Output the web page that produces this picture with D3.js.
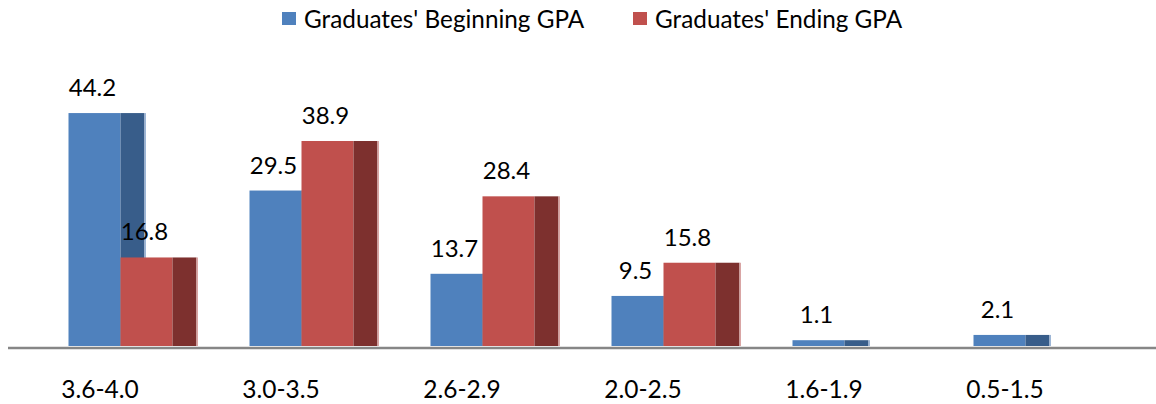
<!DOCTYPE html>
<html>
<head>
<meta charset="utf-8">
<script src="https://cdn.jsdelivr.net/npm/d3@7"></script>
<style>
  html, body { margin: 0; padding: 0; background: #fff; }
  svg { display: block; }
  text { font-family: Lato, "Open Sans", sans-serif; fill: #000; }
</style>
</head>
<body>
<svg id="chart" width="1156" height="404"></svg>
<script>
// GPA ranges, highest first
const categories = ["3.6-4.0", "3.0-3.5", "2.6-2.9", "2.0-2.5", "1.6-1.9", "0.5-1.5"];
// Percent of graduates in each range (null = no bar)
const beginningGPA = [44.2, 29.5, 13.7, 9.5, 1.1, 2.1];
const endingGPA = [16.8, 38.9, 28.4, 15.8, null, null];
const seriesNames = ["Graduates' Beginning GPA", "Graduates' Ending GPA"];

const series = [
  { name: seriesNames[0], values: beginningGPA, front: "#4F81BD", side: "#385D8A", edge: "#9DB6D6" },
  { name: seriesNames[1], values: endingGPA, front: "#C0504D", side: "#7D302E", edge: "#D9A5A4" }
];

const svg = d3.select("#chart");
const W = 1156, H = 404;
const baseY = 346;

const x = d3.scaleBand().domain(categories).range([8, 1094]).padding(0);
const y = d3.scaleLinear().domain([0, 50]).range([baseY, baseY - 50 * 5.27]);

const frontW = 52, depth = 24, groupOffset = 60.5;

// bars: front face then darker side face, series drawn in order so the
// second series overlaps the side of the first
series.forEach((s, si) => {
  const g = svg.append("g");
  const data = categories.map((c, i) => ({ c, v: s.values[i] })).filter(d => d.v != null);
  const x0 = d => x(d.c) + groupOffset + si * frontW;
  g.selectAll("rect.front").data(data).join("rect")
    .attr("class", "front")
    .attr("x", x0).attr("y", d => y(d.v))
    .attr("width", frontW).attr("height", d => baseY - y(d.v))
    .attr("fill", s.front);
  g.selectAll("rect.side").data(data).join("rect")
    .attr("class", "side")
    .attr("x", d => x0(d) + frontW).attr("y", d => y(d.v))
    .attr("width", depth).attr("height", d => baseY - y(d.v))
    .attr("fill", s.side);
  g.selectAll("rect.edge").data(data).join("rect")
    .attr("class", "edge")
    .attr("x", d => x0(d) + frontW + depth).attr("y", d => y(d.v))
    .attr("width", 1.5).attr("height", d => baseY - y(d.v))
    .attr("fill", s.edge);
});

// value labels above each front face
series.forEach((s, si) => {
  const data = categories.map((c, i) => ({ c, v: s.values[i] })).filter(d => d.v != null);
  svg.append("g").selectAll("text").data(data).join("text")
    .attr("x", d => x(d.c) + groupOffset + si * frontW + frontW / 2 - 2)
    .attr("y", d => y(d.v) - 17)
    .attr("text-anchor", "middle")
    .attr("font-size", 24)
    .text(d => d.v.toFixed(1));
});

// category axis
const axis = d3.axisBottom(x).tickSize(0).tickPadding(0);
const ax = svg.append("g").attr("transform", `translate(0,${baseY})`).call(axis);
ax.select(".domain").remove();
ax.selectAll(".tick text")
  .attr("dx", 1.5)
  .attr("y", 52)
  .attr("dy", 0)
  .attr("font-size", 24.5)
  .attr("font-family", "Lato, 'Open Sans', sans-serif")
  .attr("fill", "#000");
svg.append("line")
  .attr("x1", 8).attr("x2", W)
  .attr("y1", baseY + 2).attr("y2", baseY + 2)
  .attr("stroke", "#868686").attr("stroke-width", 2.5);

// legend
const legendX = [282, 633];
const lg = svg.append("g").selectAll("g").data(series).join("g")
  .attr("transform", (d, i) => `translate(${legendX[i]},0)`);
lg.append("rect").attr("x", 0).attr("y", 12).attr("width", 14).attr("height", 13)
  .attr("fill", d => d.front);
lg.append("text").attr("x", 22).attr("y", 28).attr("font-size", 24.3).text(d => d.name);
</script>
</body>
</html>
